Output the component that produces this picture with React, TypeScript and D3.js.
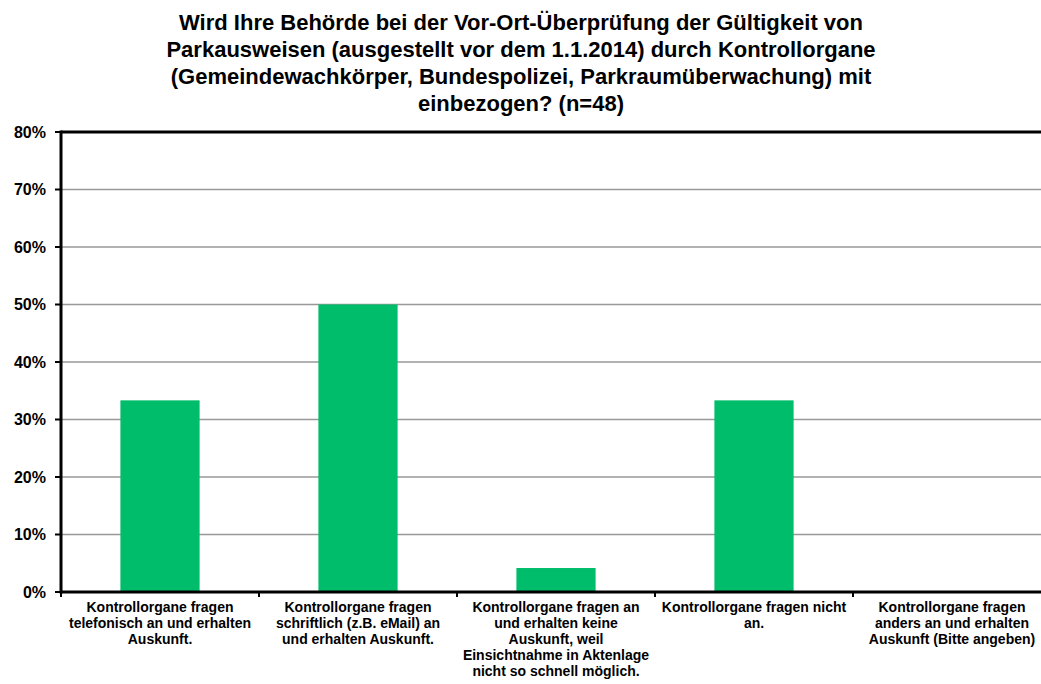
import React from 'react';
import * as d3 from 'd3';

const title_lines = [
    'Wird Ihre Behörde bei der Vor-Ort-Überprüfung der Gültigkeit von',
    'Parkausweisen (ausgestellt vor dem 1.1.2014) durch Kontrollorgane',
    '(Gemeindewachkörper, Bundespolizei, Parkraumüberwachung) mit',
    'einbezogen? (n=48)',
];

const categories = [
    ['Kontrollorgane fragen', 'telefonisch an und erhalten', 'Auskunft.'],
    ['Kontrollorgane fragen', 'schriftlich (z.B. eMail) an', 'und erhalten Auskunft.'],
    ['Kontrollorgane fragen an', 'und erhalten keine', 'Auskunft, weil', 'Einsichtnahme in Aktenlage', 'nicht so schnell möglich.'],
    ['Kontrollorgane fragen nicht', 'an.'],
    ['Kontrollorgane fragen', 'anders an und erhalten', 'Auskunft (Bitte angeben)'],
];

const values = [0.3333, 0.5, 0.0417, 0.3333, 0];

const y_ticks = [0, 0.1, 0.2, 0.3, 0.4, 0.5, 0.6, 0.7, 0.8];

const width = 1041;
const height = 684;
const margin = { left: 61, right: -10, top: 132, bottom: 92 };
const font = 'Arial, "Liberation Sans", Helvetica, sans-serif';

export default function App() {
    const x = d3
        .scaleBand<number>()
        .domain(d3.range(categories.length))
        .range([margin.left, width - margin.right])
        .paddingInner(0.6)
        .paddingOuter(0.3);
    const y = d3.scaleLinear([0, 0.8], [height - margin.bottom, margin.top]);
    const step = x.step();
    const fmt = d3.format('.0%');
    const x0 = margin.left;
    const x1 = width - margin.right;

    return (
        <div style={{ position: 'absolute', left: 0, top: 0 }}>
            <svg width={width} height={height} style={{ display: 'block', fontFamily: font }}>
                <rect width={width} height={height} fill="#fff" />
                {title_lines.map((t, i) => (
                    <text key={i} x={521} y={30 + i * 27} textAnchor="middle" fontSize={22} fontWeight="bold" fill="#000">
                        {t}
                    </text>
                ))}
                {/* grid */}
                {y_ticks.slice(1, -1).map((t) => (
                    <line key={t} x1={x0} x2={x1} y1={y(t)} y2={y(t)} stroke="#999" strokeWidth={1.5} />
                ))}
                {/* bars */}
                {values.map((v, i) => (
                    <rect key={i} x={x(i)} y={y(v)} width={x.bandwidth()} height={y(0) - y(v)} fill="#00bd6b" />
                ))}
                {/* frame */}
                <line x1={x0} x2={x1} y1={y(0.8)} y2={y(0.8)} stroke="#000" strokeWidth={3} />
                <line x1={x0} x2={x1} y1={y(0)} y2={y(0)} stroke="#000" strokeWidth={3} />
                <line x1={x0} x2={x0} y1={y(0.8) - 1.5} y2={y(0) + 1.5} stroke="#000" strokeWidth={3} />
                {/* y ticks */}
                {y_ticks.map((t) => (
                    <g key={t}>
                        <line x1={x0 - 6} x2={x0} y1={y(t)} y2={y(t)} stroke="#000" strokeWidth={2} />
                        <text x={46} y={y(t) + 5.5} textAnchor="end" fontSize={16} fontWeight="bold" fill="#000">
                            {fmt(t)}
                        </text>
                    </g>
                ))}
                {/* x ticks */}
                {d3.range(categories.length + 1).map((i) => (
                    <line key={i} x1={x0 + i * step} x2={x0 + i * step} y1={y(0)} y2={y(0) + 5} stroke="#000" strokeWidth={2} />
                ))}
                {/* x labels */}
                {categories.map((lines, i) => (
                    <text key={i} textAnchor="middle" fontSize={14} fontWeight="bold" fill="#000">
                        {lines.map((l, j) => (
                            <tspan key={j} x={x(i)! + x.bandwidth() / 2} y={612 + j * 16}>
                                {l}
                            </tspan>
                        ))}
                    </text>
                ))}
            </svg>
        </div>
    );
}
